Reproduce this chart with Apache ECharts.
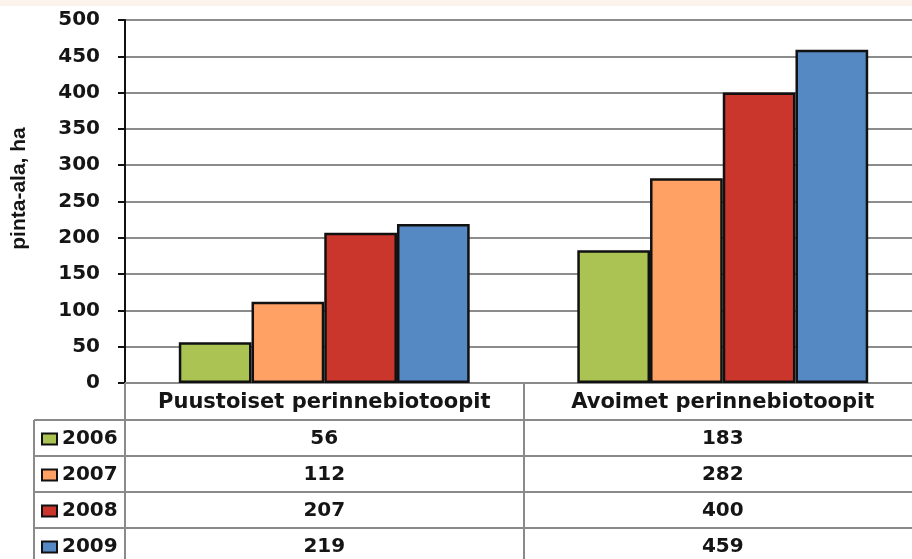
<!DOCTYPE html>
<html>
<head>
<meta charset="utf-8">
<script src="https://cdn.jsdelivr.net/npm/echarts@6/dist/echarts.min.js"></script>
<style>
  html, body { margin: 0; padding: 0; background: #fff; }
  #chart { width: 912px; height: 559px; }
</style>
</head>
<body>
<div id="chart"></div>
<script>
// data
const categories = ['Puustoiset perinnebiotoopit', 'Avoimet perinnebiotoopit'];
const years = ['2006', '2007', '2008', '2009'];
const values2006 = [56, 183];
const values2007 = [112, 282];
const values2008 = [207, 400];
const values2009 = [219, 459];
const seriesValues = [values2006, values2007, values2008, values2009];
const colors = ['#aac353', '#ffa064', '#cb362c', '#5489c4'];

const FONT = '"DejaVu Sans", Verdana, sans-serif';
const NAME_FONT = '"Liberation Sans", Arial, sans-serif';
const GRID_LEFT = 125, GRID_TOP = 20, GRID_BOTTOM = 176, GRID_WIDTH = 797;
const ROW_H = 36;
const TABLE_LINE = '#8a8a8a';

const chart = echarts.init(document.getElementById('chart'));

// rich text for the table column under each category
const cellStyle = { fontSize: 20, fontWeight: 'bold', color: '#151515', lineHeight: ROW_H, fontFamily: FONT };
const rich = { head: Object.assign({}, cellStyle, { fontSize: 21 }), val: cellStyle };

const option = {
  animation: false,
  backgroundColor: '#fff',
  textStyle: { fontFamily: FONT },
  grid: { left: GRID_LEFT, top: GRID_TOP, bottom: GRID_BOTTOM, width: GRID_WIDTH,
          containLabel: false, outerBoundsMode: 'none' },
  legend: {
    orient: 'vertical',
    left: 41,
    top: 429,
    padding: 0,
    height: 200,
    itemWidth: 15,
    itemHeight: 11,
    itemGap: 16,
    icon: 'rect',
    selectedMode: false,
    textStyle: { fontSize: 20, lineHeight: 20, fontWeight: 'bold', color: '#151515', fontFamily: FONT },
    data: years
  },
  xAxis: {
    type: 'category',
    data: categories,
    axisLine: { show: true, lineStyle: { color: TABLE_LINE, width: 2 } },
    axisTick: { show: true, length: 180, lineStyle: { color: TABLE_LINE, width: 2 } },
    axisLabel: {
      margin: 2,
      interval: 0,
      verticalAlign: 'top',
      hideOverlap: false,
      formatter: (name, idx) => {
        const lines = ['{head|' + name + '}'];
        seriesValues.forEach(v => lines.push('{val|' + v[idx] + '}'));
        return lines.join('\n');
      },
      rich: rich
    }
  },
  yAxis: {
    type: 'value',
    min: 0,
    max: 500,
    interval: 50,
    name: 'pinta-ala, ha',
    nameLocation: 'middle',
    nameGap: 95,
    nameRotate: 90,
    nameTextStyle: { fontSize: 21, fontWeight: 'bold', color: '#151515', fontFamily: NAME_FONT, padding: [0, 0, 0, 26] },
    axisLine: { show: true, lineStyle: { color: '#111', width: 2 } },
    axisTick: { show: true, length: 7, lineStyle: { color: '#111', width: 2 } },
    axisLabel: { margin: 25, fontSize: 20, fontWeight: 'bold', color: '#151515', fontFamily: FONT },
    splitLine: { show: true, lineStyle: { color: '#8c8c8c', width: 2 } }
  },
  series: years.map((y, i) => ({
    name: y,
    type: 'bar',
    data: seriesValues[i],
    barGap: '0%',
    barCategoryGap: '27%',
    itemStyle: { color: colors[i], borderColor: '#111', borderWidth: 2.5 }
  }))
};

chart.setOption(option);

// table rules: horizontal lines under header and between rows, left border of row labels
const yZero = chart.convertToPixel({ yAxisIndex: 0 }, 0);
const headerBottom = Math.round(yZero + 37);
const graphics = [
  { type: 'rect', shape: { x: 0, y: 0, width: 912, height: 6 }, style: { fill: '#fcf4ec' }, silent: true }
];
for (let r = 0; r < years.length; r++) {
  const y = headerBottom + Math.round(r * ROW_H);
  graphics.push({ type: 'line', shape: { x1: 34, y1: y, x2: 930, y2: y },
    style: { stroke: TABLE_LINE, lineWidth: 2 }, silent: true });
}
graphics.push({ type: 'line', shape: { x1: 34, y1: headerBottom, x2: 34, y2: 559 },
  style: { stroke: TABLE_LINE, lineWidth: 2 }, silent: true });
chart.setOption({ graphic: graphics });
</script>
</body>
</html>
